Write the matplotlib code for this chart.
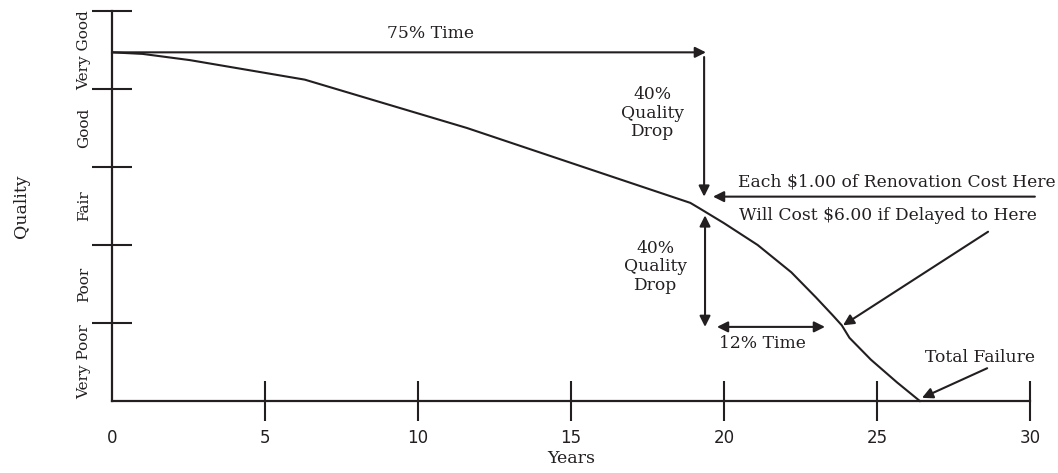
# Building quality decline curve
import numpy as np
import matplotlib.pyplot as plt

INK = '#231f20'
SERIF = ['DejaVu Serif']
NUM = ['Liberation Sans Narrow', 'DejaVu Sans']

# curve
years = [0, 1, 2.55, 6.3, 11.6, 15.4, 18.9, 19.2, 20.0, 21.1, 22.2, 23.0,
         23.55, 23.85, 24.1, 24.8, 25.65, 26.4]
quality = [4.47, 4.45, 4.37, 4.12, 3.5, 3.0, 2.54, 2.47, 2.28, 2.0, 1.65, 1.33,
           1.10, 0.97, 0.81, 0.53, 0.24, 0.0]

x_ticks = [0, 5, 10, 15, 20, 25, 30]
band_ticks = [1, 2, 3, 4, 5]
band_labels = ['Very Poor', 'Poor', 'Fair', 'Good', 'Very Good']

# annotation arrows: (start, end, style)
arrows = [
    ((0, 4.47), (19.41, 4.47), '-|>'),
    ((19.35, 4.41), (19.35, 2.62), '-|>'),
    ((30.16, 2.62), (19.64, 2.62), '-|>'),
    ((19.38, 2.38), (19.38, 0.95), '<|-|>'),
    ((19.77, 0.95), (23.3, 0.95), '<|-|>'),
    ((28.63, 2.17), (23.89, 0.97), '-|>'),
    ((28.6, 0.42), (26.47, 0.04), '-|>'),
]

# annotation texts: (x, y, text)
notes = [
    (10.4, 4.71, '75% Time'),
    (17.65, 3.69, '40%\nQuality\nDrop'),
    (17.75, 1.72, '40%\nQuality\nDrop'),
    (25.65, 2.81, 'Each $1.00 of Renovation Cost Here'),
    (25.36, 2.38, 'Will Cost $6.00 if Delayed to Here'),
    (21.27, 0.74, '12% Time'),
    (28.37, 0.56, 'Total Failure'),
]

fig = plt.figure(figsize=(10.58, 4.73), dpi=100)
ax = fig.add_axes([112 / 1058, 72 / 473, 918 / 1058, 390 / 473])
ax.set_xlim(0, 30)
ax.set_ylim(0, 5)

for s in ['top', 'right']:
    ax.spines[s].set_visible(False)
for s in ['left', 'bottom']:
    ax.spines[s].set_linewidth(1.6)
    ax.spines[s].set_color(INK)

ax.plot(years, quality, color=INK, lw=1.5, clip_on=False, zorder=3)

# x ticks
ax.set_xticks(x_ticks)
ax.set_xticklabels([str(t) for t in x_ticks], family=NUM, fontsize=12, color=INK)
ax.tick_params(axis='x', direction='inout', length=29, width=1.5, color=INK, pad=6)
ax.xaxis.get_major_ticks()[0].tick1line.set_visible(False)

# y ticks: bands with labels between them
ax.set_yticks(band_ticks)
ax.set_yticklabels([])
ax.tick_params(axis='y', which='major', direction='inout', length=29, width=1.5, color=INK)
ax.set_yticks([t - 0.5 for t in band_ticks], minor=True)
ax.set_yticklabels(band_labels, minor=True, rotation=90, va='center',
                   family=SERIF, fontsize=11, color=INK)
ax.tick_params(axis='y', which='minor', length=0, pad=15)
for t in ax.get_yticklines() + ax.get_xticklines():
    t.set_clip_on(False)

ax.set_xlabel('Years', family=SERIF, fontsize=12.5, color=INK, labelpad=2)
ax.set_ylabel('Quality', family=SERIF, fontsize=12.5, color=INK, labelpad=34)

for (x0, y0), (x1, y1), style in arrows:
    ax.annotate('', xy=(x1, y1), xytext=(x0, y0),
                arrowprops=dict(arrowstyle=style, color=INK, lw=1.5,
                                mutation_scale=16, shrinkA=0, shrinkB=0),
                annotation_clip=False)

for x, y, s in notes:
    ax.text(x, y, s, ha='center', va='center', family=SERIF, fontsize=12.3,
            color=INK, linespacing=1.1)

plt.savefig('out.png', dpi=100)
